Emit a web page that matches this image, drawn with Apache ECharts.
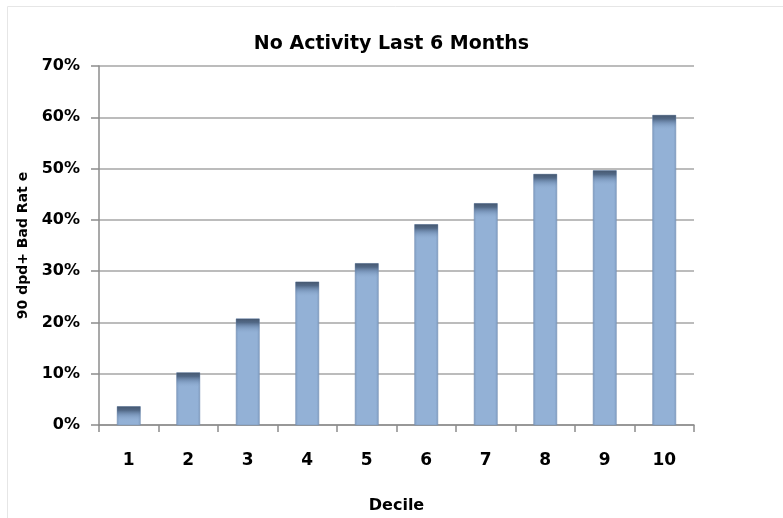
<!DOCTYPE html>
<html>
<head>
<meta charset="utf-8">
<script src="https://cdn.jsdelivr.net/npm/echarts@6/dist/echarts.min.js"></script>
<style>
  html, body { margin: 0; padding: 0; background: #ffffff; }
  #chart { width: 783px; height: 518px; }
</style>
</head>
<body>
<div id="chart"></div>
<script>
// Decile categories and the 90 dpd+ bad rate for accounts with no activity in the last 6 months
var deciles = ['1', '2', '3', '4', '5', '6', '7', '8', '9', '10'];
var badRates = [0.036, 0.102, 0.207, 0.279, 0.315, 0.391, 0.432, 0.489, 0.496, 0.604];

var chartTitle = 'No Activity Last 6 Months';
var xAxisTitle = 'Decile';
var yAxisTitle = '90 dpd+ Bad Rat e';

var chart = echarts.init(document.getElementById('chart'), null, { renderer: 'canvas' });

// Each bar: a body with darker side edges, plus a dark cap fading down from the top
function renderBar(params, api) {
  var idx = api.value(0);
  var val = api.value(1);
  var top = api.coord([idx, val]);
  var base = api.coord([idx, 0]);
  var bw = api.size([1, 0])[0] * 0.39;
  var x = top[0] - bw / 2;
  var h = base[1] - top[1];
  var capH = Math.min(15, h);
  return {
    type: 'group',
    children: [
      {
        type: 'rect',
        shape: { x: x, y: top[1], width: bw, height: h },
        style: {
          fill: new echarts.graphic.LinearGradient(0, 0, 1, 0, [
            { offset: 0, color: '#7d9abf' },
            { offset: 0.12, color: '#93b1d6' },
            { offset: 0.88, color: '#93b1d6' },
            { offset: 1, color: '#7d9abf' }
          ]),
          stroke: 'rgba(120,145,180,0.55)',
          lineWidth: 1
        }
      },
      {
        type: 'rect',
        shape: { x: x, y: top[1], width: bw, height: capH },
        style: {
          fill: new echarts.graphic.LinearGradient(0, 0, 0, 1, [
            { offset: 0, color: 'rgba(70,88,112,1)' },
            { offset: 0.25, color: 'rgba(75,97,126,0.9)' },
            { offset: 0.55, color: 'rgba(100,127,163,0.5)' },
            { offset: 1, color: 'rgba(147,177,214,0)' }
          ])
        }
      }
    ]
  };
}

var labelFont = '"DejaVu Sans", sans-serif';

chart.setOption({
  animation: false,
  backgroundColor: '#ffffff',
  graphic: [{
    type: 'rect',
    shape: { x: 7.5, y: 6.5, width: 800, height: 520 },
    style: { fill: 'none', stroke: '#e6e6e6', lineWidth: 1 },
    silent: true,
    z: -10
  }],
  title: {
    text: chartTitle,
    left: 'center',
    top: 30,
    textStyle: { fontFamily: labelFont, fontWeight: 'bold', fontSize: 19, color: '#000' }
  },
  grid: { left: 99, right: 89, top: 66, bottom: 93, outerBoundsMode: 'none', containLabel: false },
  xAxis: {
    type: 'category',
    data: deciles,
    boundaryGap: true,
    name: xAxisTitle,
    nameLocation: 'middle',
    nameGap: 73,
    nameTextStyle: { fontFamily: labelFont, fontWeight: 'bold', fontSize: 16, color: '#000' },
    axisLine: { lineStyle: { color: '#8c8c8c', width: 1.5 } },
    axisTick: { show: true, alignWithLabel: false, length: 7, lineStyle: { color: '#8c8c8c', width: 1.5 } },
    axisLabel: { margin: 27, fontFamily: labelFont, fontWeight: 'bold', fontSize: 17, color: '#000' }
  },
  yAxis: {
    type: 'value',
    min: 0,
    max: 0.7,
    interval: 0.1,
    name: yAxisTitle,
    nameLocation: 'middle',
    nameGap: 60,
    nameTextStyle: { fontFamily: labelFont, fontWeight: 'bold', fontSize: 14, color: '#000' },
    axisLine: { show: true, lineStyle: { color: '#8c8c8c', width: 1.5 } },
    axisTick: { show: true, length: 8, lineStyle: { color: '#8c8c8c', width: 1.5 } },
    splitLine: { show: true, lineStyle: { color: '#a6a6a6', width: 1.5 } },
    axisLabel: {
      margin: 19,
      fontFamily: labelFont,
      fontWeight: 'bold',
      fontSize: 16,
      color: '#000',
      formatter: function (v) { return Math.round(v * 100) + '%'; }
    }
  },
  series: [{
    type: 'custom',
    renderItem: renderBar,
    encode: { x: 0, y: 1 },
    data: badRates.map(function (v, i) { return [i, v]; }),
    z: 5
  }]
});
</script>
</body>
</html>
